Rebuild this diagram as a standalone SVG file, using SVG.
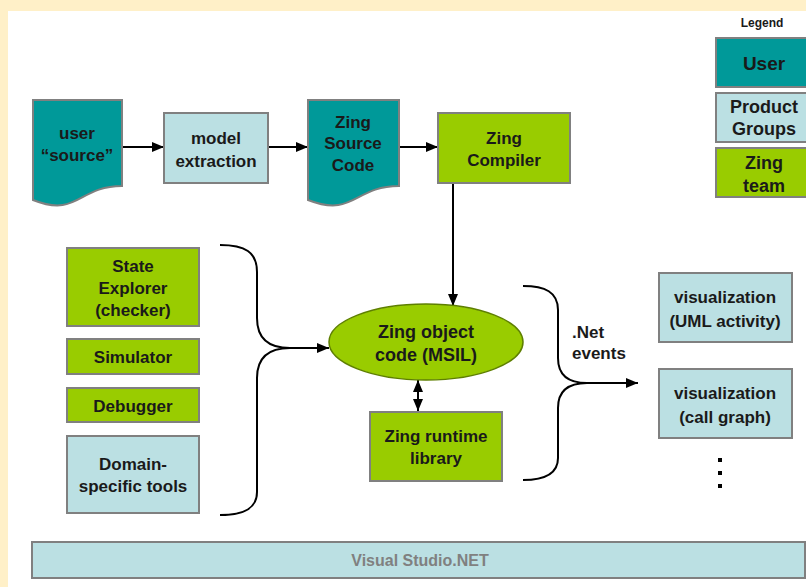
<svg xmlns="http://www.w3.org/2000/svg" width="806" height="587" viewBox="0 0 806 587">
  <style>
    .box { stroke: #808080; stroke-width: 2; }
    .user { fill: #009999; }
    .prod { fill: #BBE0E3; }
    .zing { fill: #99CC00; }
    .lbl { font-family: "Liberation Sans", Arial, sans-serif; font-weight: bold; font-size: 17px; fill: #1a1a1a; text-anchor: middle; }
    .leg { font-size: 18px; }
    .wire { fill: none; stroke: #000; stroke-width: 2; }
  </style>
  <defs>
    <marker id="arrow" viewBox="0 0 12 10" refX="12" refY="5" markerWidth="12" markerHeight="10" markerUnits="userSpaceOnUse" orient="auto-start-reverse">
      <path d="M0,0 L12,5 L0,10 Z" fill="#000"/>
    </marker>
  </defs>

  <!-- page background -->
  <rect x="0" y="0" width="806" height="587" fill="#FFF0C8"/>
  <rect x="8" y="11" width="798" height="576" fill="#FFFFFF"/>

  <!-- legend -->
  <g id="legend">
    <text x="762" y="27" class="lbl" style="font-size:12px">Legend</text>
    <rect x="716" y="38" width="96" height="49" class="box user"/>
    <text x="764" y="70" class="lbl" style="font-size:19px">User</text>
    <rect x="716" y="93" width="96" height="49" class="box prod"/>
    <text x="764" y="113" class="lbl leg">Product</text>
    <text x="764" y="135" class="lbl leg">Groups</text>
    <rect x="716" y="148" width="96" height="49" class="box zing"/>
    <text x="764" y="169" class="lbl leg">Zing</text>
    <text x="764" y="192" class="lbl leg">team</text>
  </g>

  <!-- connectors -->
  <g id="connectors">
    <line x1="123" y1="147" x2="164" y2="147" class="wire" marker-end="url(#arrow)"/>
    <line x1="268" y1="147" x2="308" y2="147" class="wire" marker-end="url(#arrow)"/>
    <line x1="399" y1="147" x2="438" y2="147" class="wire" marker-end="url(#arrow)"/>
    <line x1="453" y1="183" x2="453" y2="306" class="wire" marker-end="url(#arrow)"/>
    <line x1="418" y1="380" x2="418" y2="411" class="wire" marker-start="url(#arrow)" marker-end="url(#arrow)"/>
    <!-- left brace -->
    <path d="M220,245 C245,245 257,252 257,272 V318 C257,338 268,348 290,348 C268,348 257,358 257,378 V492 C257,508 245,515 220,515" class="wire"/>
    <line x1="290" y1="348" x2="329" y2="348" class="wire" marker-end="url(#arrow)"/>
    <!-- right brace -->
    <path d="M523,286 C545,286 558,292 558,310 V358 C558,375 568,383 587,383 C568,383 558,391 558,408 V458 C558,474 545,480 523,480" class="wire"/>
    <line x1="587" y1="383" x2="638" y2="383" class="wire" marker-end="url(#arrow)"/>
  </g>

  <!-- top row -->
  <g id="user-source">
    <path d="M33,100 H122 V186 C78,186 78,218 33,200 Z" class="box user"/>
    <text x="77" y="139" class="lbl">user</text>
    <text x="77" y="161" class="lbl">“source”</text>
  </g>
  <g id="model-extraction">
    <rect x="164" y="113" width="104" height="70" class="box prod"/>
    <text x="216" y="144" class="lbl">model</text>
    <text x="216" y="167" class="lbl">extraction</text>
  </g>
  <g id="zing-source">
    <path d="M308,100 H399 V186 C354,186 354,218 308,200 Z" class="box user"/>
    <text x="353" y="128" class="lbl">Zing</text>
    <text x="353" y="149" class="lbl">Source</text>
    <text x="353" y="171" class="lbl">Code</text>
  </g>
  <g id="zing-compiler">
    <rect x="438" y="113" width="132" height="70" class="box zing"/>
    <text x="504" y="144" class="lbl">Zing</text>
    <text x="504" y="166" class="lbl">Compiler</text>
  </g>

  <!-- tools -->
  <g id="state-explorer">
    <rect x="67" y="248" width="132" height="78" class="box zing"/>
    <text x="133" y="272" class="lbl">State</text>
    <text x="133" y="294" class="lbl">Explorer</text>
    <text x="133" y="316" class="lbl">(checker)</text>
  </g>
  <g id="simulator">
    <rect x="67" y="339" width="132" height="35" class="box zing"/>
    <text x="133" y="363" class="lbl">Simulator</text>
  </g>
  <g id="debugger">
    <rect x="67" y="388" width="132" height="34" class="box zing"/>
    <text x="133" y="412" class="lbl">Debugger</text>
  </g>
  <g id="domain-tools">
    <rect x="67" y="436" width="132" height="77" class="box prod"/>
    <text x="133" y="470" class="lbl">Domain-</text>
    <text x="133" y="492" class="lbl">specific tools</text>
  </g>

  <!-- core -->
  <g id="object-code">
    <ellipse cx="426" cy="342" rx="97" ry="38" fill="#99CC00" stroke="#5E7F00" stroke-width="1.5"/>
    <text x="426" y="338" class="lbl" style="font-size:18px">Zing object</text>
    <text x="426" y="361" class="lbl" style="font-size:18px">code (MSIL)</text>
  </g>
  <g id="runtime-library">
    <rect x="370" y="412" width="132" height="69" class="box zing"/>
    <text x="436" y="442" class="lbl">Zing runtime</text>
    <text x="436" y="464" class="lbl">library</text>
  </g>

  <text x="572" y="338" class="lbl" style="text-anchor:start">.Net</text>
  <text x="572" y="359" class="lbl" style="text-anchor:start">events</text>

  <!-- visualizers -->
  <g id="vis-uml">
    <rect x="659" y="273" width="133" height="69" class="box prod"/>
    <text x="725" y="303" class="lbl">visualization</text>
    <text x="725" y="327" class="lbl">(UML activity)</text>
  </g>
  <g id="vis-callgraph">
    <rect x="659" y="369" width="133" height="69" class="box prod"/>
    <text x="725" y="399" class="lbl">visualization</text>
    <text x="725" y="423" class="lbl">(call graph)</text>
  </g>
  <g id="more" fill="#000">
    <rect x="718" y="458" width="4" height="4"/>
    <rect x="718" y="471" width="4" height="4"/>
    <rect x="718" y="484" width="4" height="4"/>
  </g>

  <!-- platform bar -->
  <g id="visual-studio">
    <rect x="32" y="542" width="773" height="36" class="box prod"/>
    <text x="420" y="566" class="lbl" style="fill:#808080;font-size:16px">Visual Studio.NET</text>
  </g>
</svg>
